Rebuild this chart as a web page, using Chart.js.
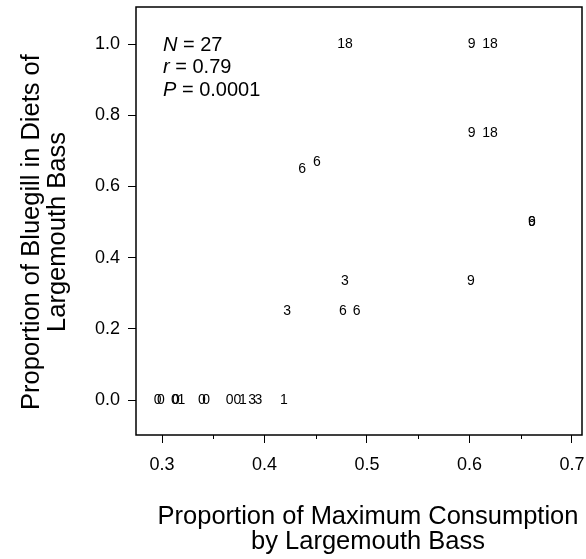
<!DOCTYPE html>
<html>
<head>
<meta charset="utf-8">
<script src="https://cdn.jsdelivr.net/npm/chart.js@4/dist/chart.umd.min.js"></script>
<style>
  html, body { margin: 0; padding: 0; background: #fff; }
  #wrap { width: 586px; height: 559px; }
</style>
</head>
<body>
<div id="wrap"><canvas id="chart" width="586" height="559"></canvas></div>
<script>
const xVals = [0.4785, 0.602, 0.62, 0.602, 0.62, 0.4366, 0.451, 0.661, 0.661, 0.4785, 0.6015, 0.422, 0.4766, 0.490,
  0.2956, 0.299, 0.3125, 0.3135, 0.319, 0.339, 0.343, 0.366, 0.3735, 0.379, 0.388, 0.394, 0.419];
const yVals = [1, 1, 1, 0.75, 0.75, 0.65, 0.667, 0.5, 0.5, 0.333, 0.333, 0.25, 0.25, 0.25,
  0, 0, 0, 0, 0, 0, 0, 0, 0, 0, 0, 0, 0];
const pointLabels = ['18', '9', '18', '9', '18', '6', '6', '6', '9', '3', '9', '3', '6', '6',
  '0', '0', '0', '0', '1', '0', '0', '0', '0', '1', '3', '3', '1'];
const xTicks = [0.3, 0.4, 0.5, 0.6, 0.7];
const xMinorTicks = [0.35, 0.45, 0.55, 0.65];
const yTicks = [0, 0.2, 0.4, 0.6, 0.8, 1.0];
const stats = [['N', ' = 27'], ['r', ' = 0.79'], ['P', ' = 0.0001']];
const xTitle = ['Proportion of Maximum Consumption', 'by Largemouth Bass'];
const yTitle = ['Proportion of Bluegill in Diets of', 'Largemouth Bass'];

const FONT = '"Liberation Sans", Arial, Helvetica, sans-serif';

// no extra room for tick label overhang, the layout padding does that
const noPad = s => {
  s.paddingTop = 0;
  s.paddingBottom = 0;
  s.paddingLeft = 0;
  s.paddingRight = 0;
};

// draws each point as its number, plus the box, minor ticks, stats text and axis titles
const labelPlugin = {
  id: 'labelPlugin',
  afterDatasetsDraw(chart) {
    const { ctx, chartArea } = chart;
    const meta = chart.getDatasetMeta(0);
    ctx.save();
    ctx.fillStyle = '#000';
    ctx.font = '14px ' + FONT;
    ctx.textAlign = 'center';
    ctx.textBaseline = 'middle';
    meta.data.forEach((pt, i) => {
      ctx.fillText(pointLabels[i], pt.x, pt.y);
    });

    ctx.strokeStyle = '#000';
    ctx.lineWidth = 1.5;
    ctx.strokeRect(chartArea.left, chartArea.top, chartArea.right - chartArea.left, chartArea.bottom - chartArea.top);

    const xs = chart.scales.x;
    ctx.lineWidth = 1;
    xMinorTicks.forEach(v => {
      const px = Math.round(xs.getPixelForValue(v)) + 0.5;
      ctx.beginPath();
      ctx.moveTo(px, chartArea.bottom);
      ctx.lineTo(px, chartArea.bottom + 4);
      ctx.stroke();
    });

    ctx.textAlign = 'left';
    let y = chartArea.top + 38;
    stats.forEach(s => {
      let x = chartArea.left + 27;
      ctx.font = 'italic 20px ' + FONT;
      ctx.fillText(s[0], x, y);
      x += ctx.measureText(s[0]).width;
      ctx.font = '20px ' + FONT;
      ctx.fillText(s[1], x, y);
      y += 22.5;
    });

    ctx.font = '25.5px ' + FONT;
    ctx.textAlign = 'center';
    const cx = (chartArea.left + chartArea.right) / 2 + 9;
    xTitle.forEach((t, i) => {
      ctx.fillText(t, cx, chartArea.bottom + 82 + i * 25);
    });

    const cy = (chartArea.top + chartArea.bottom) / 2 + 11;
    ctx.translate(0, cy);
    ctx.rotate(-Math.PI / 2);
    yTitle.forEach((t, i) => {
      ctx.fillText(t, 0, 32 + i * 26);
    });
    ctx.restore();
  }
};

new Chart(document.getElementById('chart'), {
  type: 'scatter',
  data: {
    datasets: [{
      data: xVals.map((x, i) => ({ x: x, y: yVals[i] })),
      pointRadius: 0,
      pointHoverRadius: 0,
      showLine: false
    }]
  },
  options: {
    responsive: false,
    animation: false,
    events: [],
    layout: { padding: { top: 7, right: 4, left: 0, bottom: 0 } },
    plugins: {
      legend: { display: false },
      tooltip: { enabled: false }
    },
    scales: {
      x: {
        type: 'linear',
        min: 0.2746,
        max: 0.7098,
        afterBuildTicks: s => { s.ticks = xTicks.map(v => ({ value: v })); },
        afterFit: s => { s.height = 124; noPad(s); },
        border: { display: false },
        grid: { drawOnChartArea: false, tickLength: 8, tickColor: '#000', tickWidth: 1 },
        ticks: {
          color: '#000',
          padding: 11,
          maxRotation: 0,
          font: { family: FONT, size: 18 },
          callback: v => v.toFixed(1)
        }
      },
      y: {
        type: 'linear',
        min: -0.098,
        max: 1.104,
        afterBuildTicks: s => { s.ticks = yTicks.map(v => ({ value: v })); },
        afterFit: s => { s.width = 136; noPad(s); },
        border: { display: false },
        grid: { drawOnChartArea: false, tickLength: 8, tickColor: '#000', tickWidth: 1 },
        ticks: {
          color: '#000',
          padding: 8,
          font: { family: FONT, size: 18 },
          callback: v => v.toFixed(1)
        }
      }
    }
  },
  plugins: [labelPlugin]
});
</script>
</body>
</html>
